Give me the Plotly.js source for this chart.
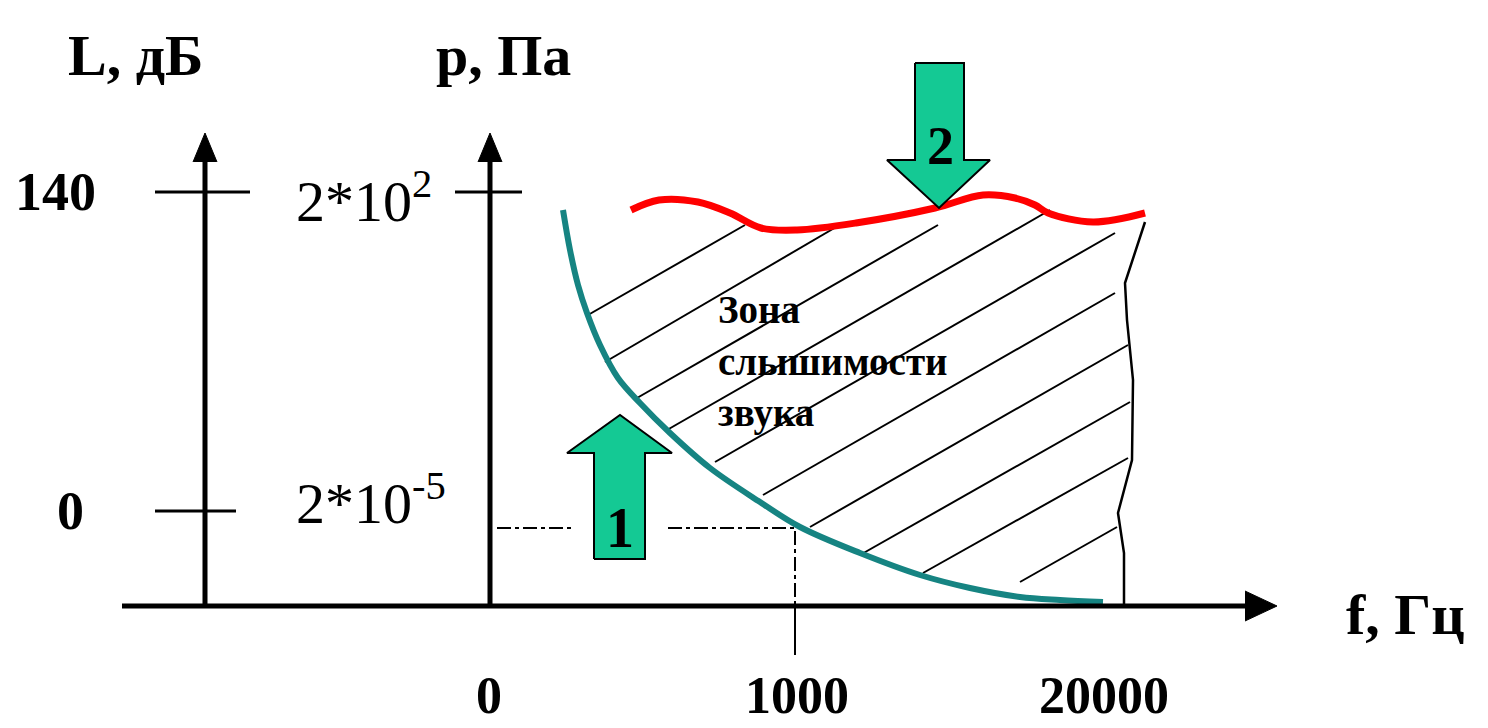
<!DOCTYPE html>
<html>
<head>
<meta charset="utf-8">
<script src="https://cdn.plot.ly/plotly-3.0.1.min.js"></script>
<style>html,body{margin:0;padding:0;background:#fff;}#chart{width:1488px;height:728px;}</style>
</head>
<body>
<div id="chart"></div>
<script>
// ---- data (diagram space: x to the right, y downward) ----
// hearing threshold curve (teal)
const thresholdX = [563, 570, 578, 587, 600, 618, 640, 670, 710, 760, 800, 860, 920, 970, 1020, 1060, 1103];
const thresholdY = [210, 250, 285, 313, 345, 378, 403, 433, 468, 502, 527, 553, 575, 588, 597, 600, 602];
// pain threshold curve (red)
const painX = [631, 659, 698, 730, 761, 797, 856, 935, 983, 1015, 1035, 1048, 1093, 1145];
const painY = [210, 200, 202, 213, 228, 230, 223, 208, 195, 198, 205, 213, 222, 213];
// upper frequency limit boundary
const limitX = [1145, 1125, 1127, 1133, 1132, 1118, 1124, 1124];
const limitY = [222, 283, 320, 380, 460, 513, 553, 606];
// hatching segments: start (on threshold curve) -> end
const hatchX0 = [588, 605, 637, 667, 715, 763, 810, 860, 923, 1020];
const hatchY0 = [315, 362, 398, 430, 462, 495, 527, 555, 573, 582];
const hatchX1 = [745, 843, 938, 1050, 1115, 1115, 1128, 1130, 1128, 1117];
const hatchY1 = [225, 223, 225, 210, 233, 293, 345, 402, 458, 527];
// axes
const freqAxisX = [122, 1250]; const freqAxisY = [606, 606];
const freqArrowX = [1245, 1277, 1245]; const freqArrowY = [591, 606, 621];
const levelAxisX = [205, 205]; const levelAxisY = [606, 158];
const levelArrowX = [193, 205, 217]; const levelArrowY = [162, 133, 162];
const pressAxisX = [490, 490]; const pressAxisY = [606, 158];
const pressArrowX = [478, 490, 502]; const pressArrowY = [162, 133, 162];
// tick marks
const tickX = [155, 250, null, 455, 522, null, 155, 236];
const tickY = [192, 192, null, 192, 192, null, 511, 511];
// 1000 Hz reference lines
const refDashX = [497, 572, null, 668, 795, 795];
const refDashY = [528, 528, null, 528, 528, 606];
const refSolidX = [795, 795]; const refSolidY = [606, 655];
// big arrows
const arrow1X = [594, 594, 567, 620, 672, 645, 645, 594];
const arrow1Y = [559, 453, 453, 415, 453, 453, 559, 559];
const arrow2X = [915, 964, 964, 990, 939, 887, 915, 915];
const arrow2Y = [63, 63, 160, 160, 208, 160, 160, 63];
// labels
const levelLabels = ['140', '0'];
const pressureLabels = ['2*10<sup>2</sup>', '2*10<sup>-5</sup>'];
const freqLabels = ['0', '1000', '20000'];
const zoneLines = ['Зона', 'слышимости', 'звука'];

// ---- build ----
const hx = [], hy = [];
for (let i = 0; i < hatchX0.length; i++) {
  hx.push(hatchX0[i], hatchX1[i], null);
  hy.push(hatchY0[i], hatchY1[i], null);
}
const line = (x, y, color, width, dash, shape) => ({
  type: 'scatter', mode: 'lines', x, y, hoverinfo: 'skip', showlegend: false,
  line: {color, width, dash: dash || 'solid', shape: shape || 'linear', smoothing: 1}
});
const poly = (x, y, fill, outline, w) => ({
  type: 'scatter', mode: 'lines', x, y, fill: 'toself', fillcolor: fill,
  hoverinfo: 'skip', showlegend: false, line: {color: outline, width: w}
});
const GREEN = '#14c994';
const traces = [
  line(hx, hy, '#000', 2),
  line(refDashX, refDashY, '#000', 2, '14px,4px,4px,4px'),
  line(refSolidX, refSolidY, '#000', 2),
  line(limitX, limitY, '#000', 2.5),
  line(thresholdX, thresholdY, '#168482', 6, null, 'spline'),
  line(painX, painY, '#ff0000', 7, null, 'spline'),
  line(freqAxisX, freqAxisY, '#000', 5),
  poly(freqArrowX, freqArrowY, '#000', '#000', 1),
  line(levelAxisX, levelAxisY, '#000', 5),
  poly(levelArrowX, levelArrowY, '#000', '#000', 1),
  line(pressAxisX, pressAxisY, '#000', 5),
  poly(pressArrowX, pressArrowY, '#000', '#000', 1),
  line(tickX, tickY, '#000', 3),
  poly(arrow1X, arrow1Y, GREEN, '#000', 2),
  poly(arrow2X, arrow2Y, GREEN, '#000', 2)
];

const SERIF = 'Liberation Serif, Times New Roman, serif';
const ann = (text, x, y, size, bold, xanchor, yanchor) => ({
  text: bold ? '<b>' + text + '</b>' : text, x, y, xref: 'x', yref: 'y',
  showarrow: false, xanchor: xanchor || 'center', yanchor: yanchor || 'middle',
  font: {family: SERIF, size, color: '#000'}
});
const annotations = [
  ann('L, дБ', 135, 55, 58, true),
  ann('p, Па', 503, 55, 58, true),
  ann(levelLabels[0], 55, 192, 54, true),
  ann(levelLabels[1], 70, 511, 54, true),
  ann(pressureLabels[0], 294, 197, 58, false, 'left'),
  ann(pressureLabels[1], 294, 499, 58, false, 'left'),
  ann(freqLabels[0], 489, 726, 52, true, 'center', 'bottom'),
  ann(freqLabels[1], 797, 726, 52, true, 'center', 'bottom'),
  ann(freqLabels[2], 1104, 726, 52, true, 'center', 'bottom'),
  ann('f, Гц', 1405, 614, 58, true),
  ann('1', 620, 528, 56, true),
  ann('2', 940, 146, 54, true),
  ann(zoneLines[0], 716, 309, 39, true, 'left'),
  ann(zoneLines[1], 716, 361, 39, true, 'left'),
  ann(zoneLines[2], 716, 413, 39, true, 'left')
];

const layout = {
  width: 1488, height: 728,
  margin: {l: 0, r: 0, t: 0, b: 0, pad: 0},
  paper_bgcolor: '#fff', plot_bgcolor: '#fff',
  xaxis: {range: [0, 1488], visible: false, fixedrange: true},
  yaxis: {range: [728, 0], visible: false, fixedrange: true},
  showlegend: false,
  annotations
};
Plotly.newPlot('chart', traces, layout, {staticPlot: true, displayModeBar: false});
</script>
</body>
</html>
